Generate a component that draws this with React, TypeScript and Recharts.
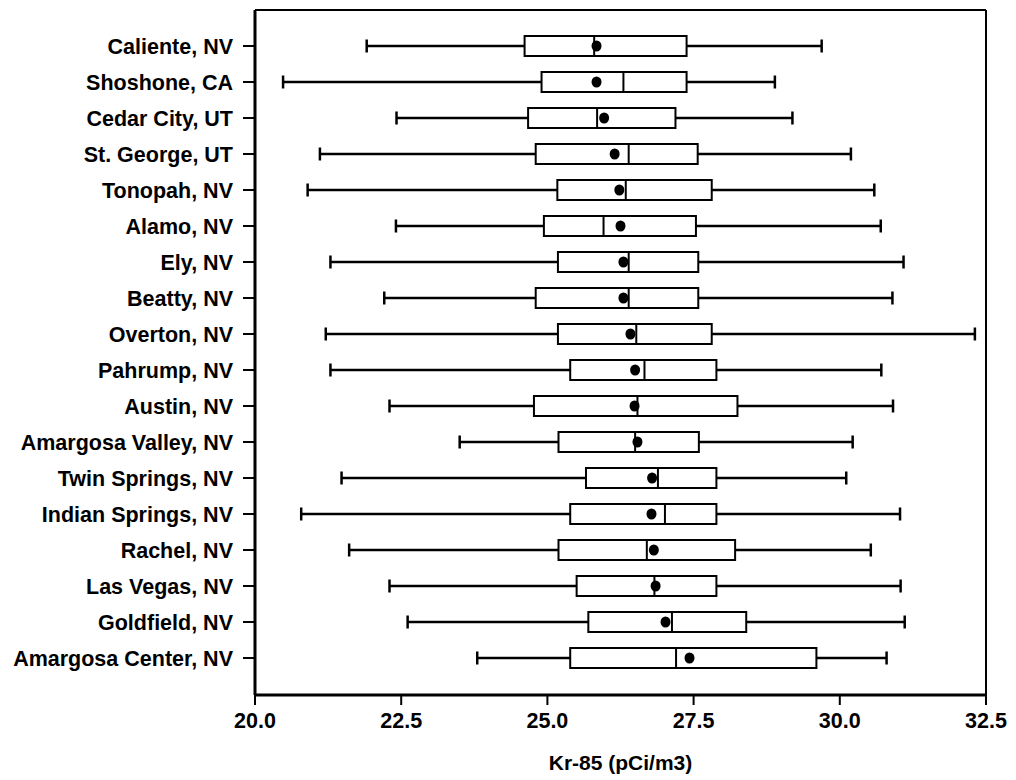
import { ComposedChart, Bar, Scatter, XAxis, YAxis } from 'recharts';

const sites = [
  'Caliente, NV', 'Shoshone, CA', 'Cedar City, UT', 'St. George, UT', 'Tonopah, NV',
  'Alamo, NV', 'Ely, NV', 'Beatty, NV', 'Overton, NV', 'Pahrump, NV', 'Austin, NV',
  'Amargosa Valley, NV', 'Twin Springs, NV', 'Indian Springs, NV', 'Rachel, NV',
  'Las Vegas, NV', 'Goldfield, NV', 'Amargosa Center, NV',
];

const lowWhisker = [21.91, 20.48, 22.42, 21.11, 20.9, 22.41, 21.29, 22.21, 21.21, 21.29, 22.3, 23.5, 21.48, 20.79, 21.61, 22.3, 22.61, 23.8];
const q1s = [24.61, 24.9, 24.67, 24.8, 25.17, 24.94, 25.18, 24.8, 25.18, 25.39, 24.77, 25.19, 25.66, 25.39, 25.19, 25.5, 25.7, 25.39];
const medians = [25.8, 26.3, 25.85, 26.39, 26.34, 25.96, 26.39, 26.39, 26.52, 26.66, 26.54, 26.5, 26.89, 27.01, 26.7, 26.83, 27.13, 27.2];
const q3s = [27.38, 27.38, 27.19, 27.57, 27.81, 27.54, 27.58, 27.58, 27.81, 27.89, 28.25, 27.59, 27.89, 27.89, 28.21, 27.89, 28.4, 29.6];
const highWhisker = [29.69, 28.89, 29.19, 30.19, 30.59, 30.7, 31.09, 30.9, 32.31, 30.71, 30.91, 30.22, 30.11, 31.03, 30.53, 31.04, 31.11, 30.8];
const means = [25.84, 25.84, 25.97, 26.15, 26.23, 26.25, 26.3, 26.3, 26.42, 26.5, 26.49, 26.54, 26.79, 26.78, 26.82, 26.85, 27.02, 27.43];

const xTicks = [20, 22.5, 25, 27.5, 30, 32.5];

const data = sites.map((site, i) => ({
  site,
  range: [lowWhisker[i], highWhisker[i]],
  lo: lowWhisker[i],
  q1: q1s[i],
  med: medians[i],
  q3: q3s[i],
  hi: highWhisker[i],
  mean: means[i],
}));

const FONT = '"Liberation Sans", Arial, Helvetica, sans-serif';
const tickStyle = { fontSize: 21.5, fontWeight: 'bold', fill: '#000', fontFamily: FONT };

// whisker + box + median, positioned from the bar the library laid out for [lo, hi]
const BoxShape = (props: any) => {
  const { x, y, width, height, payload } = props;
  const { lo, q1, med, q3, hi } = payload;
  const k = width / (hi - lo);
  const px = (v: number) => x + (v - lo) * k;
  const cy = y + height / 2;
  return (
    <g stroke="#000" fill="none">
      <line x1={x} x2={x + width} y1={cy} y2={cy} strokeWidth={2.5} />
      <line x1={x} x2={x} y1={cy - 6.5} y2={cy + 6.5} strokeWidth={2.5} />
      <line x1={x + width} x2={x + width} y1={cy - 6.5} y2={cy + 6.5} strokeWidth={2.5} />
      <rect x={px(q1)} y={y} width={px(q3) - px(q1)} height={height} fill="#fff" strokeWidth={2} />
      <line x1={px(med)} x2={px(med)} y1={y} y2={y + height} strokeWidth={2} />
    </g>
  );
};

const MeanDot = (props: any) => (
  <ellipse cx={props.cx} cy={props.cy} rx={5} ry={5.5} fill="#000" />
);

export default function App() {
  return (
    <div style={{ width: 1000, height: 772, background: '#fff' }}>
      <ComposedChart
        width={1000}
        height={772}
        data={data}
        layout="vertical"
        margin={{ top: 1, right: 21, bottom: 0, left: 0 }}
        style={{ fontFamily: FONT }}
      >
        <XAxis
          type="number"
          domain={[20, 32.5]}
          ticks={xTicks}
          interval={0}
          allowDataOverflow
          tickFormatter={(v: number) => v.toFixed(1)}
          tick={tickStyle}
          tickSize={10}
          tickMargin={8}
          height={85}
          axisLine={{ stroke: '#000', strokeWidth: 3 }}
          tickLine={{ stroke: '#000', strokeWidth: 2 }}
          label={{ value: 'Kr-85 (pCi/m3)', position: 'insideBottom', offset: 10, fill: '#000', fontSize: 21, fontWeight: 'bold' }}
        />
        {/* frame: top edge */}
        <XAxis
          xAxisId="top"
          orientation="top"
          type="number"
          domain={[20, 32.5]}
          height={1}
          tick={false}
          tickLine={false}
          axisLine={{ stroke: '#000', strokeWidth: 2 }}
        />
        <YAxis
          type="category"
          dataKey="site"
          width={247}
          padding={{ top: 18, bottom: 19 }}
          interval={0}
          tick={tickStyle}
          tickSize={12}
          tickMargin={10}
          axisLine={{ stroke: '#000', strokeWidth: 3 }}
          tickLine={{ stroke: '#000', strokeWidth: 2 }}
        />
        {/* frame: right edge */}
        <YAxis
          yAxisId="right"
          orientation="right"
          type="number"
          domain={[0, 1]}
          width={1}
          tick={false}
          tickLine={false}
          axisLine={{ stroke: '#000', strokeWidth: 2 }}
        />
        <Bar dataKey="range" barSize={20} shape={<BoxShape />} isAnimationActive={false} />
        <Scatter dataKey="mean" shape={<MeanDot />} isAnimationActive={false} />
      </ComposedChart>
    </div>
  );
}
